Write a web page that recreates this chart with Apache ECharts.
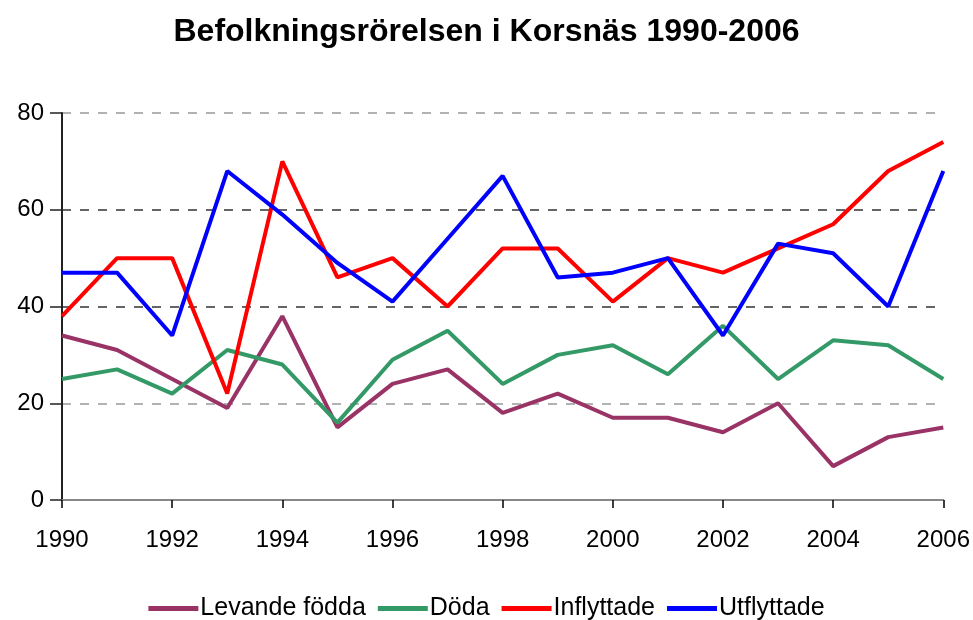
<!DOCTYPE html>
<html>
<head>
<meta charset="utf-8">
<script src="https://cdn.jsdelivr.net/npm/echarts@6/dist/echarts.min.js"></script>
<style>
  html, body { margin: 0; padding: 0; background: #fff; }
  #chart { width: 973px; height: 620px; }
</style>
</head>
<body>
<div id="chart"></div>
<script>
// år och serier
var years = ['1990','1991','1992','1993','1994','1995','1996','1997','1998',
             '1999','2000','2001','2002','2003','2004','2005','2006'];
var levandeFodda = [34, 31, 25, 19, 38, 15, 24, 27, 18, 22, 17, 17, 14, 20, 7, 13, 15];
var doda         = [25, 27, 22, 31, 28, 16, 29, 35, 24, 30, 32, 26, 36, 25, 33, 32, 25];
var inflyttade   = [38, 50, 50, 22, 70, 46, 50, 40, 52, 52, 41, 50, 47, 52, 57, 68, 74];
var utflyttade   = [47, 47, 34, 68, 59, 49, 41, 54, 67, 46, 47, 50, 34, 53, 51, 40, 68];

var myChart = echarts.init(document.getElementById('chart'));

function serie(name, data, color) {
    return {
        name: name,
        type: 'line',
        data: data,
        symbol: 'none',
        lineStyle: { color: color, width: 4 },
        itemStyle: { color: color },
        animation: false
    };
}

var option = {
    backgroundColor: '#fff',
    title: {
        text: 'Befolkningsrörelsen i Korsnäs 1990-2006',
        left: 'center',
        top: 11,
        textStyle: { fontFamily: 'Liberation Sans', fontWeight: 'bold', fontSize: 32, color: '#000' }
    },
    legend: {
        top: 591,
        left: 'center',
        itemWidth: 50,
        itemHeight: 5,
        itemGap: 12,
        icon: 'rect',
        textStyle: { fontFamily: 'Liberation Sans', fontSize: 25, color: '#000', padding: [0, 0, 0, -3] },
        data: ['Levande födda', 'Döda', 'Inflyttade', 'Utflyttade']
    },
    grid: { left: 62, right: 29, top: 113, bottom: 120 },
    xAxis: {
        type: 'category',
        data: years,
        boundaryGap: false,
        axisLine: { lineStyle: { color: '#888', width: 2 } },
        axisTick: { interval: 1, length: 8, lineStyle: { color: '#000', width: 1.5 } },
        axisLabel: { interval: 1, margin: 28, fontFamily: 'Liberation Sans', fontSize: 24, color: '#000' },
        splitLine: { show: false }
    },
    yAxis: {
        type: 'value',
        min: 0,
        max: 80,
        interval: 20,
        axisLine: { show: true, lineStyle: { color: '#222', width: 2 } },
        axisTick: { show: true, length: 12, lineStyle: { color: '#222', width: 1.5 } },
        axisLabel: { margin: 18, fontFamily: 'Liberation Sans', fontSize: 24, color: '#000' },
        splitLine: {
            lineStyle: {
                type: [9, 9],
                width: 1.5,
                color: ['#999', '#999', '#333', '#333', '#999']
            }
        }
    },
    series: [
        serie('Levande födda', levandeFodda, '#993366'),
        serie('Döda', doda, '#339966'),
        serie('Inflyttade', inflyttade, '#ff0000'),
        serie('Utflyttade', utflyttade, '#0000ff')
    ]
};

myChart.setOption(option);
</script>
</body>
</html>
